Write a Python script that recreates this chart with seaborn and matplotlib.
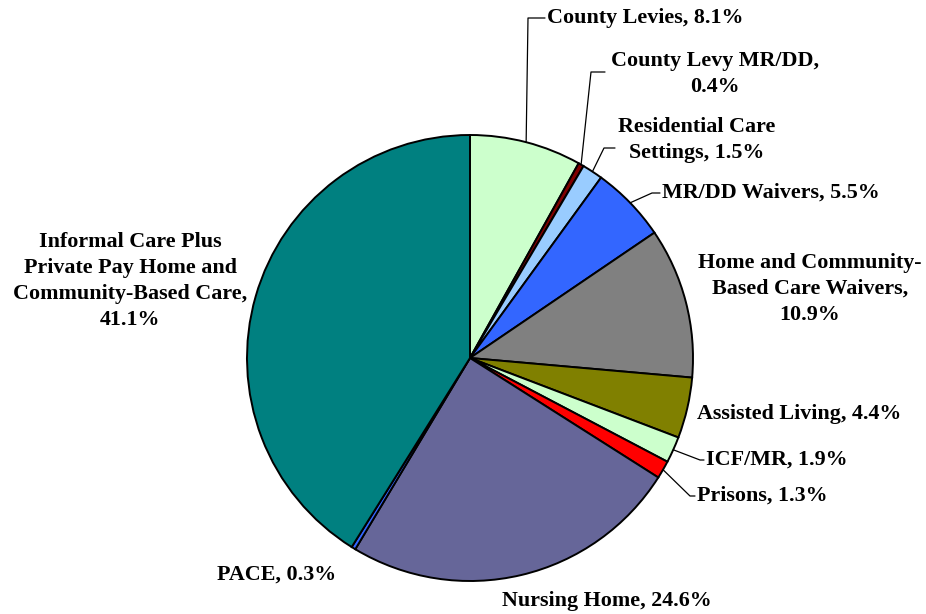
import numpy as np
import matplotlib
matplotlib.use("Agg")
import matplotlib.pyplot as plt
import seaborn as sns

# ---- data ----
categories = [
    "County Levies", "County Levy MR/DD", "Residential Care Settings",
    "MR/DD Waivers", "Home and Community-Based Care Waivers",
    "Assisted Living", "ICF/MR", "Prisons", "Nursing Home", "PACE",
    "Informal Care Plus Private Pay Home and Community-Based Care",
]
shares = [8.1, 0.4, 1.5, 5.5, 10.9, 4.4, 1.9, 1.3, 24.6, 0.3, 41.1]
label_texts = [
    "County Levies, 8.1%",
    "County Levy MR/DD,\n0.4%",
    "Residential Care\nSettings, 1.5%",
    "MR/DD Waivers, 5.5%",
    "Home and Community-\nBased Care Waivers,\n10.9%",
    "Assisted Living, 4.4%",
    "ICF/MR, 1.9%",
    "Prisons, 1.3%",
    "Nursing Home, 24.6%",
    "PACE, 0.3%",
    "Informal Care Plus\nPrivate Pay Home and\nCommunity-Based Care,\n41.1%",
]
colors = ["#CCFFCC", "#800000", "#99CCFF", "#3366FF", "#808080",
          "#808000", "#CCFFCC", "#FF0000", "#666699", "#3366FF", "#008080"]

# ---- layout (pixel coords, y from top) ----
W, H = 926, 614
cx, cy, R = 470, 358, 223
# (x, y, ha) for each label
label_pos = [
    (547, 18, "left"), (715, 74, "center"), (697, 140, "center"),
    (662, 193, "left"), (810, 289, "center"), (697, 414, "left"),
    (706, 460, "left"), (697, 496, "left"), (607, 601, "center"),
    (217, 575, "left"), (130, 281, "center"),
]
# leader lines: (elbow x, elbow y, end x) or None
leaders = [
    (528, 18, 545), (591, 72, 605), (604, 148, 615), (652, 193, 660),
    None, None, (700, 460, 704), (690, 496, 695), None, None, None,
]

sns.set_theme(style="white")
plt.rcParams["font.family"] = ["Liberation Serif", "DejaVu Serif"]

fig = plt.figure(figsize=(W / 100, H / 100), dpi=100)
ax = fig.add_axes([0, 0, 1, 1])
ax.set_xlim(0, W)
ax.set_ylim(0, H)
ax.set_aspect("equal")
ax.axis("off")

wedges, _ = ax.pie(shares, colors=colors, startangle=90, counterclock=False,
                   center=(cx, H - cy), radius=R,
                   wedgeprops=dict(edgecolor="black", linewidth=1.4))
ax.set_xlim(0, W)
ax.set_ylim(0, H)

for i, (txt, (lx, ly, ha)) in enumerate(zip(label_texts, label_pos)):
    ax.text(lx, H - ly, txt, ha=ha, va="center", fontsize=15.8,
            fontweight="bold", color="black", linespacing=1.42)
    ld = leaders[i]
    if ld is not None:
        w = wedges[i]
        ang = np.deg2rad((w.theta1 + w.theta2) / 2)
        sx = cx + R * np.cos(ang)
        sy = (H - cy) + R * np.sin(ang)
        ex, ey, endx = ld
        ax.plot([sx, ex, endx], [sy, H - ey, H - ey], color="black", lw=0.9)

fig.savefig("out.png", dpi=100)
